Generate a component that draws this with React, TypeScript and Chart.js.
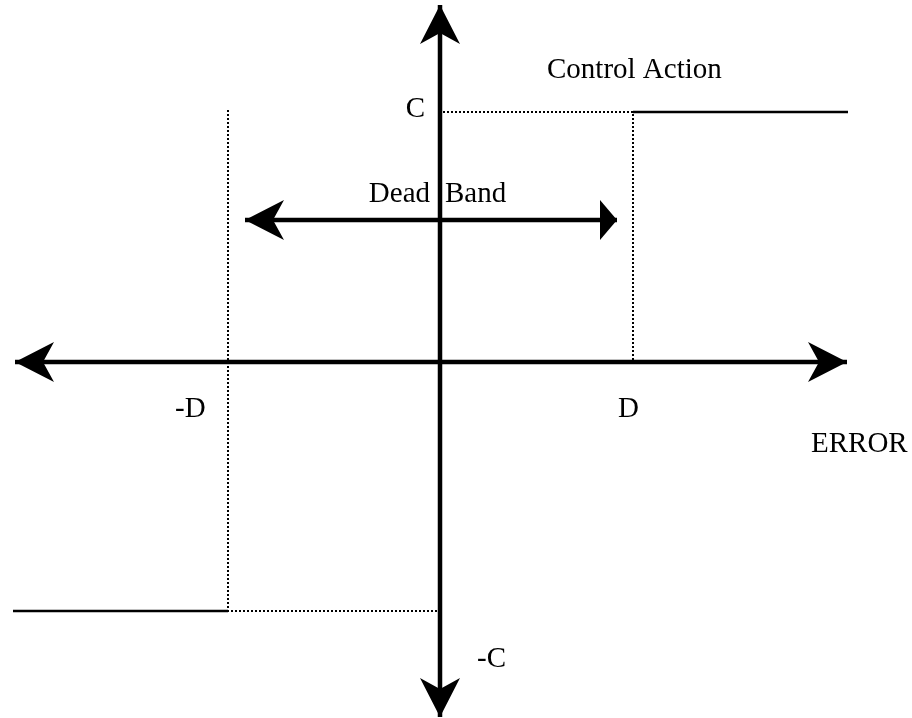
import React, { useEffect, useRef } from "react";
import { Chart, registerables } from "chart.js";

Chart.register(...registerables);

// Coordinates in diagram units (origin at the axes crossing)
const errorAxis = [
  { x: -4.25, y: 0 },
  { x: 4.07, y: 0 },
];
const controlAxis = [
  { x: 0, y: 3.57 },
  { x: 0, y: -3.55 },
];
const deadBandArrow = [
  { x: -1.95, y: 1.42 },
  { x: 1.77, y: 1.42 },
];
const controlHigh = [
  { x: 1.93, y: 2.5 },
  { x: 4.08, y: 2.5 },
];
const controlLow = [
  { x: -4.27, y: -2.49 },
  { x: -2.12, y: -2.49 },
];
const dottedHigh = [
  { x: 0.03, y: 2.5 },
  { x: 1.93, y: 2.5 },
  { x: 1.93, y: 0.02 },
];
const dottedLow = [
  { x: -2.12, y: 2.52 },
  { x: -2.12, y: -2.49 },
  { x: 0, y: -2.49 },
];

const labelTexts = ["Control Action", "C", "Dead", "Band", "-D", "D", "ERROR", "-C"];
const labelX = [1.07, -0.15, -0.1, 0.05, -2.65, 1.78, 3.71, 0.37];
const labelY = [2.84, 2.45, 1.6, 1.6, -0.55, -0.55, -0.9, -3.05];
const labelAlign = ["left", "right", "right", "left", "left", "left", "left", "left"];

const arrowPlugin = {
  id: "arrowHeads",
  afterDatasetsDraw(chart: any) {
    const ctx = chart.ctx;
    chart.data.datasets.forEach((ds: any, i: number) => {
      const pts = chart.getDatasetMeta(i).data;
      if (!pts || pts.length < 2) return;
      const draw = (style: string, tip: any, prev: any) => {
        const ang = Math.atan2(tip.y - prev.y, tip.x - prev.x);
        ctx.save();
        ctx.translate(tip.x, tip.y);
        ctx.rotate(ang);
        ctx.beginPath();
        if (style === "notch") {
          ctx.moveTo(0, 0);
          ctx.lineTo(-39, -20);
          ctx.lineTo(-28, 0);
          ctx.lineTo(-39, 20);
        } else {
          ctx.moveTo(0, 0);
          ctx.lineTo(-17, -20);
          ctx.lineTo(-17, 20);
        }
        ctx.closePath();
        ctx.fillStyle = "#000";
        ctx.fill();
        ctx.restore();
      };
      if (ds.arrowStart) draw(ds.arrowStart, pts[0], pts[1]);
      if (ds.arrowEnd) draw(ds.arrowEnd, pts[pts.length - 1], pts[pts.length - 2]);
    });
  },
};

const textPlugin = {
  id: "diagramText",
  afterDraw(chart: any) {
    const ctx = chart.ctx;
    const xs = chart.scales.x;
    const ys = chart.scales.y;
    ctx.save();
    ctx.fillStyle = "#000";
    ctx.font = '29px "Liberation Serif", "Times New Roman", serif';
    ctx.textBaseline = "alphabetic";
    labelTexts.forEach((t, i) => {
      ctx.textAlign = labelAlign[i];
      ctx.fillText(t, xs.getPixelForValue(labelX[i]), ys.getPixelForValue(labelY[i]));
    });
    ctx.restore();
  },
};

export default function App() {
  const ref = useRef<HTMLCanvasElement | null>(null);
  useEffect(() => {
    if (!ref.current) return;
    const solid = (data: any[], width: number, extra: any = {}) => ({
      data,
      showLine: true,
      borderColor: "#000",
      backgroundColor: "#000",
      borderWidth: width,
      pointRadius: 0,
      borderCapStyle: "butt",
      clip: false,
      ...extra,
    });
    const chart = new Chart(ref.current, {
      type: "scatter",
      data: {
        datasets: [
          solid(errorAxis, 4.5, { arrowStart: "notch", arrowEnd: "notch" }),
          solid(controlAxis, 4.5, { arrowStart: "notch", arrowEnd: "notch" }),
          solid(deadBandArrow, 4.5, { arrowStart: "notch", arrowEnd: "tri" }),
          solid(controlHigh, 2.5),
          solid(controlLow, 2.5),
          solid(dottedHigh, 2, { borderDash: [2, 2] }),
          solid(dottedLow, 2, { borderDash: [2, 2] }),
        ] as any,
      },
      options: {
        animation: false,
        responsive: false,
        devicePixelRatio: 1,
        layout: { padding: 0 },
        plugins: { legend: { display: false }, tooltip: { enabled: false } },
        events: [],
        scales: {
          x: { type: "linear", min: -4.4, max: 4.72, display: false },
          y: { type: "linear", min: -3.56, max: 3.62, display: false },
        },
      },
      plugins: [arrowPlugin, textPlugin],
    } as any);
    return () => chart.destroy();
  }, []);
  return (
    <div style={{ position: "absolute", left: 0, top: 0, width: 912, height: 718, background: "#fff" }}>
      <canvas ref={ref} width={912} height={718} style={{ display: "block" }} />
    </div>
  );
}
